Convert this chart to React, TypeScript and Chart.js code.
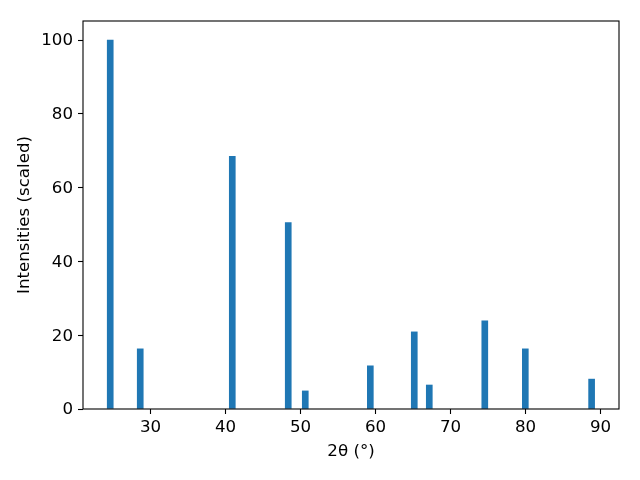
import React, { useEffect, useRef } from "react";
import { Chart, registerables } from "chart.js";

Chart.register(...registerables);

// 2θ peak positions (degrees)
const peakPositions = [24.63, 28.63, 40.9, 48.36, 50.63, 59.3, 65.16, 67.16, 74.56, 79.96, 88.8];
// scaled intensities
const intensities = [100, 16.3, 68.5, 50.5, 4.9, 11.7, 20.9, 6.5, 23.9, 16.3, 8.1];

const xTicks = [30, 40, 50, 60, 70, 80, 90];
const yTicks = [0, 20, 40, 60, 80, 100];

const xLabel = "2θ (°)";
const yLabel = "Intensities (scaled)";

const FONT = "'DejaVu Sans', sans-serif";

const framePlugin = {
  id: "frame",
  afterDatasetsDraw(chart: any) {
    const { ctx, chartArea } = chart;
    ctx.save();
    ctx.strokeStyle = "#000";
    ctx.lineWidth = 1.1;
    ctx.strokeRect(chartArea.left, chartArea.top, chartArea.right - chartArea.left, chartArea.bottom - chartArea.top);
    ctx.restore();
  },
};

export default function App() {
  const ref = useRef<HTMLCanvasElement | null>(null);

  useEffect(() => {
    if (!ref.current) return;
    const chart = new Chart(ref.current, {
      type: "bar",
      data: {
        datasets: [
          {
            data: peakPositions.map((x, i) => ({ x, y: intensities[i] })),
            backgroundColor: "#1f77b4",
            borderWidth: 0,
            barThickness: 6,
          } as any,
        ],
      },
      options: {
        responsive: false,
        animation: false,
        devicePixelRatio: 1,
        layout: { padding: { left: 0, top: 21, right: 21, bottom: 0 } },
        plugins: {
          legend: { display: false },
          tooltip: { enabled: false },
        },
        scales: {
          x: {
            type: "linear",
            min: 21.0,
            max: 92.45,
            offset: false,
            border: { display: false },
            grid: {
              offset: false,
              drawOnChartArea: false,
              drawTicks: true,
              tickLength: 5,
              tickColor: "#000",
              tickWidth: 1.1,
            },
            ticks: {
              color: "#000",
              padding: 3.5,
              font: { family: FONT, size: 16.67 },
              maxRotation: 0,
              autoSkip: false,
            },
            title: {
              display: true,
              text: xLabel,
              color: "#000",
              font: { family: FONT, size: 16.67 },
              padding: { top: 0, bottom: 18 },
            },
            afterBuildTicks: (scale: any) => {
              scale.ticks = xTicks.map((v) => ({ value: v }));
            },
            afterFit: (scale: any) => {
              scale.height = 71;
            },
          } as any,
          y: {
            type: "linear",
            min: 0,
            max: 105.15,
            border: { display: false },
            grid: {
              drawOnChartArea: false,
              drawTicks: true,
              tickLength: 5,
              tickColor: "#000",
              tickWidth: 1.1,
            },
            ticks: {
              color: "#000",
              padding: 5,
              labelOffset: 1,
              font: { family: FONT, size: 16.67 },
              autoSkip: false,
            },
            title: {
              display: true,
              text: yLabel,
              color: "#000",
              font: { family: FONT, size: 16.67 },
              padding: { top: 15, bottom: 0 },
            },
            afterBuildTicks: (scale: any) => {
              scale.ticks = yTicks.map((v) => ({ value: v }));
            },
            afterFit: (scale: any) => {
              scale.width = 83;
            },
          } as any,
        },
      },
      plugins: [framePlugin],
    });
    return () => chart.destroy();
  }, []);

  return (
    <div style={{ position: "absolute", left: 0, top: 0, width: 640, height: 480, background: "#fff" }}>
      <canvas ref={ref} width={640} height={480} />
    </div>
  );
}
